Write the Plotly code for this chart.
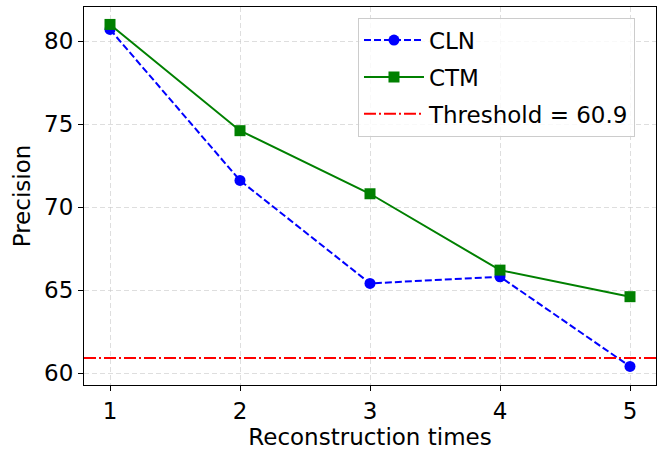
import plotly.graph_objects as go

x_vals = [1, 2, 3, 4, 5]
cln = [80.7, 71.6, 65.4, 65.8, 60.4]
ctm = [81.0, 74.6, 70.8, 66.2, 64.6]
threshold = 60.9
x_range = [0.8, 5.2]
y_range = [59.28, 82.05]
y_ticks = [60, 65, 70, 75, 80]

fig = go.Figure()
fig.add_trace(go.Scatter(
    x=x_vals, y=cln, mode="lines+markers", name="CLN", legendgroup="a",
    line=dict(color="blue", width=2, dash="7px,3px"),
    marker=dict(symbol="circle", size=11, color="blue"),
))
fig.add_trace(go.Scatter(
    x=x_vals, y=ctm, mode="lines+markers", name="CTM", legendgroup="b",
    line=dict(color="green", width=2),
    marker=dict(symbol="square", size=11, color="green"),
))
fig.add_trace(go.Scatter(
    x=x_range, y=[threshold, threshold], mode="lines", legendgroup="c",
    name=f"Threshold = {threshold}",
    line=dict(color="red", width=2, dash="12px,3px,2px,3px"),
))

axis_common = dict(
    showline=True, linecolor="black", linewidth=1.2, mirror=True,
    ticks="outside", ticklen=5, tickcolor="black", tickwidth=1.2,
    showgrid=True, gridcolor="rgba(200,200,200,0.6)", griddash="5px,3px", gridwidth=1,
    zeroline=False,
    tickfont=dict(size=23, color="black"),
    title_font=dict(size=23, color="black"),
)

fig.update_layout(
    width=663, height=450,
    margin=dict(l=84, r=7, t=6, b=64),
    paper_bgcolor="white", plot_bgcolor="white",
    font=dict(family="DejaVu Sans", color="black"),
    xaxis=dict(range=x_range, tickvals=x_vals, title=dict(text="Reconstruction times", standoff=4), **axis_common),
    yaxis=dict(range=y_range, tickvals=y_ticks, title=dict(text="Precision", standoff=6), **axis_common),
    legend=dict(
        x=0.479, y=0.972, xanchor="left", yanchor="top",
        bgcolor="rgba(255,255,255,0.8)", bordercolor="#cccccc", borderwidth=1,
        font=dict(size=23, color="black"), itemwidth=60, tracegroupgap=4,
    ),
    showlegend=True,
)

fig.write_html("out.html", config={"displayModeBar": False},
               post_script="document.body.style.margin='0';document.body.style.padding='0';")
